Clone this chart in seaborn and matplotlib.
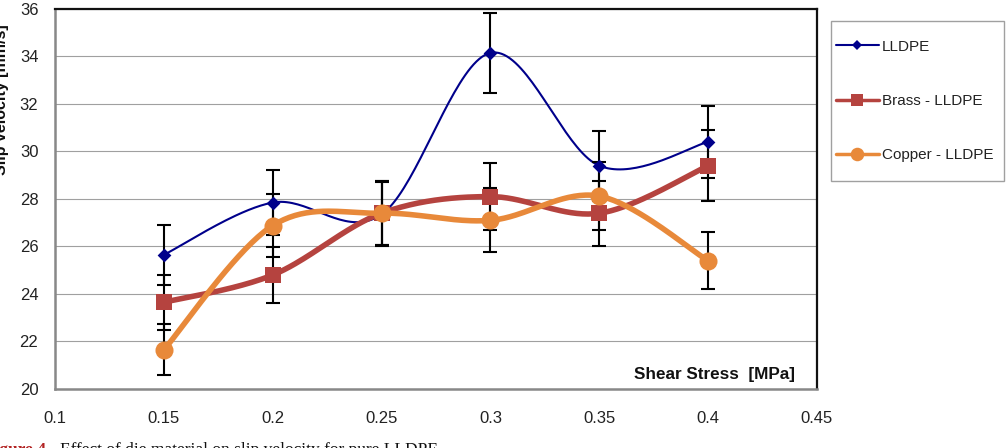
import numpy as np
import pandas as pd
import seaborn as sns
import matplotlib.pyplot as plt
import matplotlib.ticker as ticker
from matplotlib.lines import Line2D
from matplotlib.patches import Rectangle

# data
shear_stress = [0.15, 0.2, 0.25, 0.3, 0.35, 0.4]
lldpe = [25.65, 27.85, 27.35, 34.15, 29.4, 30.4]
lldpe_err = [1.27, 1.38, 1.35, 1.7, 1.47, 1.5]
brass = [23.65, 24.8, 27.4, 28.1, 27.4, 29.4]
brass_err = [1.15, 1.17, 1.35, 1.42, 1.36, 1.5]
copper = [21.65, 26.88, 27.4, 27.1, 28.12, 25.4]
copper_err = [1.07, 1.32, 1.35, 1.35, 1.42, 1.2]

series = ['LLDPE', 'Brass - LLDPE', 'Copper - LLDPE']
values = {'LLDPE': (lldpe, lldpe_err),
          'Brass - LLDPE': (brass, brass_err),
          'Copper - LLDPE': (copper, copper_err)}
colors = {'LLDPE': '#00008b', 'Brass - LLDPE': '#b5433f', 'Copper - LLDPE': '#e8893a'}
markers = {'LLDPE': 'D', 'Brass - LLDPE': 's', 'Copper - LLDPE': 'o'}
msizes = {'LLDPE': 7, 'Brass - LLDPE': 11, 'Copper - LLDPE': 13}
lwidths = {'LLDPE': 1.5, 'Brass - LLDPE': 4, 'Copper - LLDPE': 4}


def smooth(xs, ys, sx=2180.0, sy=23.75, n=40):
    # Excel-like smoothed line (Catmull-Rom bezier) computed in screen-ish units
    P = np.column_stack([np.asarray(xs) * sx, np.asarray(ys) * sy])
    out = []
    t = np.linspace(0, 1, n)[:, None]
    for i in range(len(P) - 1):
        p0 = P[i - 1] if i > 0 else P[i]
        p1, p2 = P[i], P[i + 1]
        p3 = P[i + 2] if i + 2 < len(P) else P[i + 1]
        c1 = p1 + (p2 - p0) / 6
        c2 = p2 - (p3 - p1) / 6
        seg = ((1 - t) ** 3) * p1 + 3 * ((1 - t) ** 2) * t * c1 + 3 * (1 - t) * t ** 2 * c2 + t ** 3 * p2
        out.append(seg if i == 0 else seg[1:])
    out = np.vstack(out)
    return out[:, 0] / sx, out[:, 1] / sy


sns.set_style('white')
plt.rcParams['font.family'] = ['Liberation Sans', 'DejaVu Sans']

fig = plt.figure(figsize=(10.07, 4.48), dpi=100)
ax = fig.add_axes([0.0546, 0.1317, 0.7567, 0.8483])

for name in series:
    ys, errs = values[name]
    cx, cy = smooth(shear_stress, ys)
    curve = pd.DataFrame({'x': cx, 'y': cy})
    sns.lineplot(data=curve, x='x', y='y', sort=False, estimator=None, ax=ax,
                 color=colors[name], linewidth=lwidths[name], zorder=3)
    ax.errorbar(shear_stress, ys, yerr=errs, fmt='none', ecolor='black',
                elinewidth=1.5, capsize=5, capthick=1.5, zorder=4)
    pts = pd.DataFrame({'x': shear_stress, 'y': ys})
    sns.scatterplot(data=pts, x='x', y='y', ax=ax, marker=markers[name],
                    s=msizes[name] ** 2, color=colors[name], edgecolor=colors[name],
                    linewidth=0, zorder=5)

ax.set_xlim(0.1, 0.45)
ax.set_ylim(20, 36)
ax.xaxis.set_major_locator(ticker.MultipleLocator(0.05))
ax.xaxis.set_minor_locator(ticker.MultipleLocator(0.01))
ax.yaxis.set_major_locator(ticker.MultipleLocator(2))
ax.yaxis.set_minor_locator(ticker.MultipleLocator(0.4))
ax.xaxis.set_major_formatter(ticker.FuncFormatter(lambda v, p: f'{v:g}'))
ax.yaxis.grid(True, which='major', color='#a0a0a0', linewidth=0.8)
ax.xaxis.grid(False)
ax.tick_params(axis='both', which='major', direction='inout', length=8, width=1.2,
               color='#888888', labelsize=12, labelcolor='#222222')
ax.tick_params(axis='both', which='minor', direction='inout', length=6, width=1,
               color='#888888')
ax.tick_params(axis='x', which='major', pad=12)
ax.tick_params(axis='y', which='major', pad=8)
ax.set_xlabel('')
ax.set_ylabel('')

for side in ['left', 'bottom']:
    ax.spines[side].set_color('#888888')
    ax.spines[side].set_linewidth(1.8)
for side in ['top', 'right']:
    ax.spines[side].set_color('#111111')
    ax.spines[side].set_linewidth(1.6)

ax.text(0.971, 0.037, 'Shear Stress  [MPa]', transform=ax.transAxes, ha='right',
        va='center', fontsize=12.3, fontweight='bold', color='#111111')

# y label is cut off by the left edge in the reference
fig.text(0.0015, 0.777, 'Slip velocity [mm/s]', rotation=90, ha='center', va='center',
         fontsize=11.5, fontweight='bold', color='#111111')

# caption, cut off at the bottom/left edge in the reference
fig.text(-0.0154, -0.0145, 'Figure 4.', ha='left', va='baseline', fontsize=12.5,
         color='#b22222', fontweight='bold', family=['Liberation Serif'])
fig.text(0.0596, -0.0145, 'Effect of die material on slip velocity for pure LLDPE',
         ha='left', va='baseline', fontsize=12.5, color='#111111',
         family=['Liberation Serif'])

# legend frame drawn separately so the box matches the reference
fig.patches.append(Rectangle((831 / 1007, 1 - 181 / 448), 173 / 1007, 160 / 448,
                             transform=fig.transFigure, facecolor='white',
                             edgecolor='#a0a0a0', linewidth=1, zorder=0))
handles = [Line2D([0], [0], color=colors[n], lw=min(lwidths[n], 2.5), marker=markers[n],
                  markersize=msizes[n] * 0.75, markeredgewidth=0) for n in series]
leg = fig.legend(handles, series, loc='center left',
                 bbox_to_anchor=(836 / 1007, 1 - 101 / 448),
                 fontsize=11, frameon=False, labelspacing=2.65,
                 handlelength=2.8, handletextpad=0.2, borderpad=0, borderaxespad=0)
for t in leg.get_texts():
    t.set_color('#222222')

plt.savefig('out.png', dpi=100)
